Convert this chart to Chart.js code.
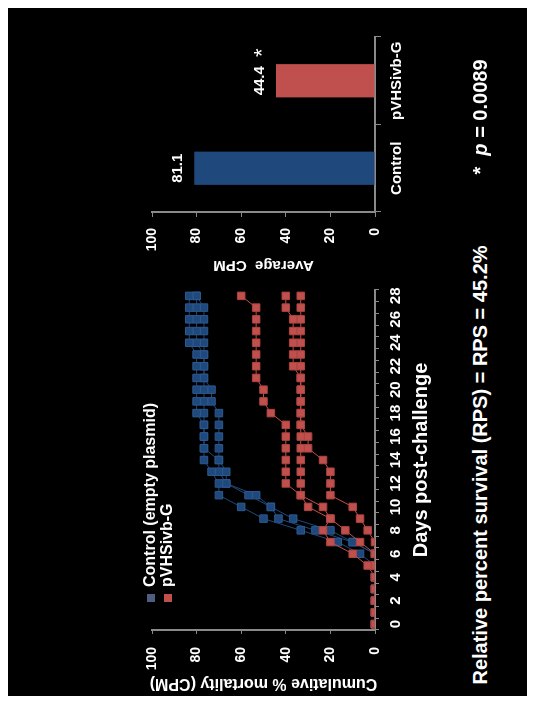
<!DOCTYPE html>
<html>
<head>
<meta charset="utf-8">
<script src="https://cdn.jsdelivr.net/npm/chart.js@4.4.1/dist/chart.umd.min.js"></script>
<style>
    html, body { margin: 0; padding: 0; background: #fff; }
    body { width: 535px; height: 704px; position: relative; overflow: hidden;
           font-family: "Liberation Sans", Arial, sans-serif; }
    /* the figure is laid out landscape and turned a quarter turn left */
    #fig { position: absolute; left: 8px; top: 696px; width: 688px; height: 519px;
           background: #000; color: #fff; font-weight: bold;
           transform-origin: 0 0; transform: rotate(-90deg); }
    #fig canvas { position: absolute; }
    #mortality { left: 0; top: 110px; }
    #average { left: 410px; top: 110px; }
    .legend { position: absolute; left: 94px; top: 133px; font-size: 16px; line-height: 17px; }
    .legend div { white-space: nowrap; }
    .legend span { display: inline-block; width: 8px; height: 8px; margin-right: 7px; }
    .note { position: absolute; font-size: 20px; white-space: nowrap; transform: translate(-50%, -50%); }
</style>
</head>
<body>
<div id="fig">
    <canvas id="mortality" width="430" height="330"></canvas>
    <canvas id="average" width="278" height="330"></canvas>
    <div class="legend">
        <div><span style="background:#4f5d80"></span>Control (empty plasmid)</div>
        <div><span style="background:#c0504d"></span>pVHSivb-G</div>
    </div>
    <div class="note" style="left:231px; top:472px">Relative percent survival (RPS) = RPS = 45.2%</div>
    <div class="note" style="left:579px; top:472px">*&nbsp; <i>p</i> = 0.0089</div>
</div>

<script>
const days = ['0','1','2','3','4','5','6','7','8','9','10','11','12','13','14',
              '15','16','17','18','19','20','21','22','23','24','25','26','27','28'];

// control (empty plasmid), three tanks
const control1 = [0,0,0,0,0,0,6.7,16.7,33.3,50,60,70,70,73.3,76.7,76.7,76.7,76.7,80,80,80,80,80,80,83.3,83.3,83.3,83.3,83.3];
const control2 = [0,0,0,0,0,0,0,10,26.7,43.3,46.7,56.7,66.7,70,70,76.7,76.7,76.7,76.7,76.7,76.7,76.7,76.7,76.7,80,80,80,80,80];
const control3 = [0,0,0,0,0,0,0,10,20,36.7,46.7,53.3,66.7,66.7,70,70,70,70,70,73.3,73.3,76.7,76.7,76.7,76.7,76.7,76.7,76.7,80];

// pVHSivb-G, three tanks
const vaccine1 = [0,0,0,0,0,0,0,6.7,13.3,20,30,33.3,40,40,40,40,40,40,46.7,50,50,53.3,53.3,53.3,53.3,53.3,53.3,53.3,60];
const vaccine2 = [0,0,0,0,0,0,0,0,3.3,6.7,10,20,20,20,23.3,30,30,33.3,33.3,33.3,33.3,33.3,36.7,36.7,36.7,36.7,36.7,40,40];
const vaccine3 = [0,0,0,0,0,3.3,10,20,23.3,20,23.3,33.3,33.3,33.3,33.3,33.3,33.3,33.3,33.3,33.3,33.3,33.3,33.3,33.3,33.3,33.3,33.3,33.3,33.3];

const groups = ['Control', 'pVHSivb-G'];
const averageCPM = [81.1, 44.4];

const blue = '#1f497d';
const red = '#c0504d';
const axisGrey = '#8a8a8a';

Chart.defaults.font.family = '"Liberation Sans", Arial, sans-serif';
Chart.defaults.font.weight = 'bold';
Chart.defaults.color = '#fff';

function tank(data, colour, edge, order) {
    return {
        data: data,
        borderColor: colour,
        backgroundColor: colour,
        borderWidth: 1,
        pointStyle: 'rect',
        pointRadius: 5.3,
        pointBorderWidth: 1,
        pointBorderColor: edge,
        pointBackgroundColor: colour,
        order: order
    };
}

new Chart(document.getElementById('mortality'), {
    type: 'line',
    data: {
        labels: days,
        datasets: [
            tank(control1, blue, '#2d5a90', 2),
            tank(control2, blue, '#2d5a90', 2),
            tank(control3, blue, '#2d5a90', 2),
            tank(vaccine1, red, '#b0443f', 1),
            tank(vaccine2, red, '#b0443f', 1),
            tank(vaccine3, red, '#b0443f', 1)
        ]
    },
    options: {
        responsive: false,
        animation: false,
        devicePixelRatio: 1,
        layout: { padding: { left: 0, top: 34, right: 24, bottom: 0 } },
        plugins: { legend: { display: false }, tooltip: { enabled: false } },
        scales: {
            x: {
                offset: true,
                grid: { offset: true, drawOnChartArea: false, tickLength: 4, color: axisGrey },
                border: { color: axisGrey, width: 2 },
                ticks: {
                    autoSkip: false, maxRotation: 0, padding: 8,
                    font: { size: 15, weight: 'bold' },
                    callback: function (v, i) { return i % 2 === 0 ? this.getLabelForValue(v) : ''; }
                },
                title: { display: true, text: 'Days post-challenge', font: { size: 20, weight: 'bold' },
                         padding: { top: 0, bottom: 15 } },
                afterFit: s => { s.height = 73; }
            },
            y: {
                min: 0, max: 100,
                grid: { drawOnChartArea: false, tickLength: 4, color: axisGrey },
                border: { color: axisGrey, width: 2 },
                ticks: { stepSize: 20, padding: 13, font: { size: 14, weight: 'bold' } },
                title: { display: true, text: 'Cumulative % mortality (CPM)', font: { size: 16, weight: 'bold' },
                         padding: { top: 3, bottom: 0 } },
                afterFit: s => { s.width = 66; }
            }
        }
    }
});

// value labels over the bars, and the significance star
const barLabels = {
    id: 'barLabels',
    afterDatasetsDraw(chart) {
        const ctx = chart.ctx;
        const bars = chart.getDatasetMeta(0).data;
        ctx.save();
        ctx.fillStyle = '#fff';
        ctx.textAlign = 'center';
        ctx.textBaseline = 'middle';
        ctx.font = 'bold 15px "Liberation Sans"';
        bars.forEach((bar, i) => ctx.fillText(averageCPM[i].toFixed(1), bar.x, bar.y - 16));
        ctx.font = '22px "Liberation Sans"';
        ctx.fillText('*', bars[1].x + 28, bars[1].y - 13);
        ctx.restore();
    }
};

new Chart(document.getElementById('average'), {
    type: 'bar',
    data: {
        labels: groups,
        datasets: [{
            data: averageCPM,
            backgroundColor: [blue, red],
            borderWidth: 0,
            categoryPercentage: 1,
            barPercentage: 0.38
        }]
    },
    options: {
        responsive: false,
        animation: false,
        devicePixelRatio: 1,
        layout: { padding: { left: 0, top: 34, right: 29, bottom: 0 } },
        plugins: { legend: { display: false }, tooltip: { enabled: false } },
        scales: {
            x: {
                grid: { offset: true, drawOnChartArea: false, tickLength: 6, color: axisGrey },
                border: { color: axisGrey, width: 2 },
                ticks: { padding: 7, font: { size: 15, weight: 'bold' } },
                afterFit: s => { s.height = 73; }
            },
            y: {
                min: 0, max: 100,
                grid: { drawOnChartArea: false, tickLength: 5, color: axisGrey },
                border: { color: axisGrey, width: 2 },
                ticks: { stepSize: 20, padding: 11, font: { size: 14, weight: 'bold' } },
                title: { display: true, text: 'Average  CPM', font: { size: 15, weight: 'bold' },
                         padding: { top: 12, bottom: 0 } },
                afterFit: s => { s.width = 74; }
            }
        }
    },
    plugins: [barLabels]
});
</script>
</body>
</html>
